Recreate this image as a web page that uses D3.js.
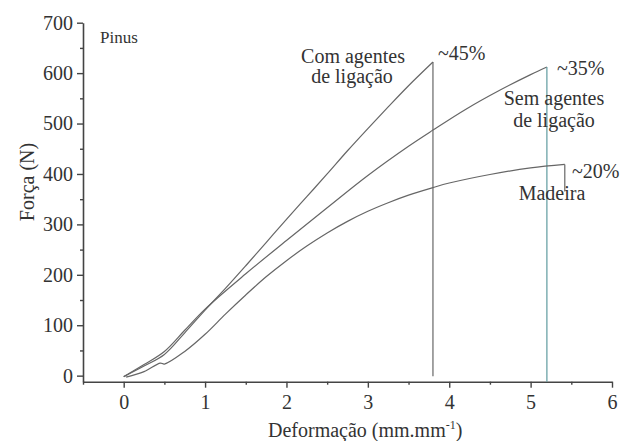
<!DOCTYPE html>
<html>
<head>
<meta charset="utf-8">
<script src="https://cdn.jsdelivr.net/npm/d3@7"></script>
<style>
  body { margin: 0; background: #fff; }
  svg text { font-family: "Liberation Serif", "Times New Roman", Times, "DejaVu Serif", serif; fill: #333; }
</style>
</head>
<body>
<div id="chart"></div>
<script>
// Data (Pinus)
const deformCom = [0, 0.25, 0.5, 0.75, 1.0, 1.25, 1.5, 1.75, 2.0, 2.25, 2.5, 2.75, 3.0, 3.25, 3.5, 3.8];
const forceCom = [-2, 19, 42, 85, 130, 173, 218, 264, 310, 355, 400, 446, 490, 533, 575, 622];

const deformSem = [0, 0.25, 0.5, 0.75, 1.0, 1.5, 2.0, 2.5, 3.0, 3.5, 3.8, 4.2, 4.62, 5.0, 5.2];
const forceSem = [-2, 22, 48, 90, 132, 202, 268, 333, 397, 455, 487, 528, 566, 597, 612];

const deformMad = [0.03, 0.25, 0.45, 0.5, 0.75, 1.0, 1.25, 1.5, 1.75, 2.0, 2.25, 2.5, 2.75, 3.0, 3.25, 3.5, 3.8, 4.0, 4.5, 5.0, 5.42];
const forceMad = [-3, 8, 25, 23, 48, 82, 122, 160, 196, 228, 257, 283, 306, 326, 343, 358, 373, 382, 399, 412, 419];

// force value where each rupture (vertical drop) ends
const dropEnd = [-1, -12, 365];

const xTicks = [0, 1, 2, 3, 4, 5, 6];
const xMinor = [-0.5, 0.5, 1.5, 2.5, 3.5, 4.5, 5.5];
const yTicks = [0, 100, 200, 300, 400, 500, 600, 700];
const yMinor = [50, 150, 250, 350, 450, 550, 650];

const width = 622;
const height = 441;
const serif = '"Liberation Serif", "Times New Roman", Times, "DejaVu Serif", serif';

const x = d3.scaleLinear().domain([-0.5, 6]).range([83, 612]);
const y = d3.scaleLinear().domain([-12, 700]).range([381.7, 22.7]);

const svg = d3.select("#chart")
    .append("svg")
    .attr("width", width)
    .attr("height", height)
    .attr("viewBox", [0, 0, width, height])
    .style("font-family", serif);

const axisColor = "#444";

// x axis
const gx = svg.append("g")
    .attr("transform", `translate(0,${y(-12)})`)
    .call(d3.axisBottom(x).tickValues(xTicks).tickFormat(d3.format("d"))
        .tickSize(6).tickSizeOuter(0).tickPadding(6));
gx.append("g").call(d3.axisBottom(x).tickValues(xMinor).tickSize(3).tickFormat(""))
    .select(".domain").remove();

// y axis
const gy = svg.append("g")
    .attr("transform", `translate(${x(-0.5)},0)`)
    .call(d3.axisLeft(y).tickValues(yTicks).tickFormat(d3.format("d"))
        .tickSize(6).tickSizeOuter(0).tickPadding(4));
gy.append("g").call(d3.axisLeft(y).tickValues(yMinor).tickSize(3).tickFormat(""))
    .select(".domain").remove();

svg.selectAll("g").attr("font-family", null);
svg.selectAll(".domain").attr("stroke", axisColor).attr("stroke-width", 1.6);
svg.selectAll(".tick line").attr("stroke", axisColor).attr("stroke-width", 1.4);
svg.selectAll(".tick text")
    .style("font-family", serif)
    .style("font-size", "20px")
    .attr("fill", "#333");
gx.selectAll(".tick text").attr("dy", "0.75em");

// axis titles
svg.append("text")
    .attr("transform", `translate(34,182) rotate(-90)`)
    .attr("text-anchor", "middle")
    .style("font-size", "20px")
    .text("Força (N)");

const xt = svg.append("text")
    .attr("x", 268)
    .attr("y", 437)
    .style("font-size", "20px");
xt.append("tspan").text("Deformação (mm.mm");
xt.append("tspan").attr("dy", -8).style("font-size", "12px").text("-1");
xt.append("tspan").attr("dy", 8).text(")");

// curves
const series = [
    { name: "com", xs: deformCom, ys: forceCom, drop: dropEnd[0], dropColor: "#666" },
    { name: "sem", xs: deformSem, ys: forceSem, drop: dropEnd[1], dropColor: "#5f9ba0" },
    { name: "mad", xs: deformMad, ys: forceMad, drop: dropEnd[2], dropColor: "#666" }
];

const line = d3.line()
    .x((d) => x(d[0]))
    .y((d) => y(d[1]))
    .curve(d3.curveCatmullRom.alpha(0.5));

const g = svg.append("g")
    .attr("fill", "none")
    .attr("stroke-width", 1.2)
    .attr("stroke-linejoin", "round");

series.forEach((s) => {
    const pts = s.xs.map((v, i) => [v, s.ys[i]]);
    g.append("path")
        .attr("stroke", "#666")
        .attr("d", line(pts));
    const last = pts[pts.length - 1];
    g.append("line")
        .attr("stroke", s.dropColor)
        .attr("x1", x(last[0]))
        .attr("x2", x(last[0]))
        .attr("y1", y(last[1]))
        .attr("y2", y(s.drop));
});

// annotations
const notes = [
    { t: "Pinus", x: 100, y: 43, size: 17, anchor: "start" },
    { t: "Com agentes", x: 353, y: 63, size: 20, anchor: "middle" },
    { t: "de ligação", x: 352, y: 83, size: 20, anchor: "middle" },
    { t: "~45%", x: 438, y: 60, size: 20, anchor: "start" },
    { t: "~35%", x: 557, y: 75, size: 20, anchor: "start" },
    { t: "Sem agentes", x: 554, y: 105, size: 20, anchor: "middle" },
    { t: "de ligação", x: 554, y: 127, size: 20, anchor: "middle" },
    { t: "~20%", x: 572, y: 178, size: 20, anchor: "start" },
    { t: "Madeira", x: 552, y: 200, size: 20, anchor: "middle" }
];

svg.append("g")
    .selectAll("text")
    .data(notes)
    .join("text")
    .attr("x", (d) => d.x)
    .attr("y", (d) => d.y)
    .attr("text-anchor", (d) => d.anchor)
    .style("font-size", (d) => d.size + "px")
    .text((d) => d.t);
</script>
</body>
</html>
